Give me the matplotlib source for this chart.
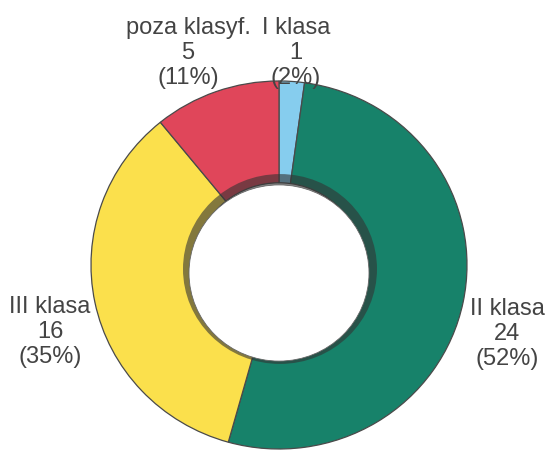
import matplotlib
matplotlib.use("Agg")
import matplotlib.pyplot as plt
from matplotlib.patches import Circle

labels = ["I klasa", "II klasa", "III klasa", "poza klasyf."]
values = [1, 24, 16, 5]
percents = ["2%", "52%", "35%", "11%"]
colors = ["#86cdee", "#17826a", "#fbe04c", "#e0465a"]

W, H = 546, 452
K = 188 / 184  # slight vertical squash, as in the scanned original
fig = plt.figure(figsize=(W / 100, H / 100), dpi=100)
ax = fig.add_axes([0, 0, 1, 1])
plt.rcParams['font.family'] = ['Liberation Sans', 'DejaVu Sans']


def Y(py):
    return (H - py) * K


cx, cy = 279, Y(266)
R = 188
wedges, _ = ax.pie(values, colors=colors, startangle=90, counterclock=False,
                   center=(cx, cy), radius=R,
                   wedgeprops=dict(width=R - 84, edgecolor="#4a4a4a", linewidth=0.9))

# inner shadow and hole
ax.add_patch(Circle((280, Y(270)), 97, facecolor="#333333", alpha=0.6, edgecolor="none", zorder=3))
ax.add_patch(Circle((279, Y(274)), 90, facecolor="white", edgecolor="#666666", linewidth=0.6, zorder=4))

ax.set_xlim(0, W)
ax.set_ylim(0, H * K)
ax.set_aspect("auto")
ax.axis("off")

label_pos = [(296, 53), (507, 334), (50, 332), (188, 53)]
for lab, v, p, (x, y) in zip(labels, values, percents, label_pos):
    ax.text(x, Y(y), f"{lab}\n{v}\n({p})", ha="center", va="center", multialignment="center",
            fontsize=17, color="#444444", linespacing=1.15, zorder=5)

fig.savefig("out.png", dpi=100)
